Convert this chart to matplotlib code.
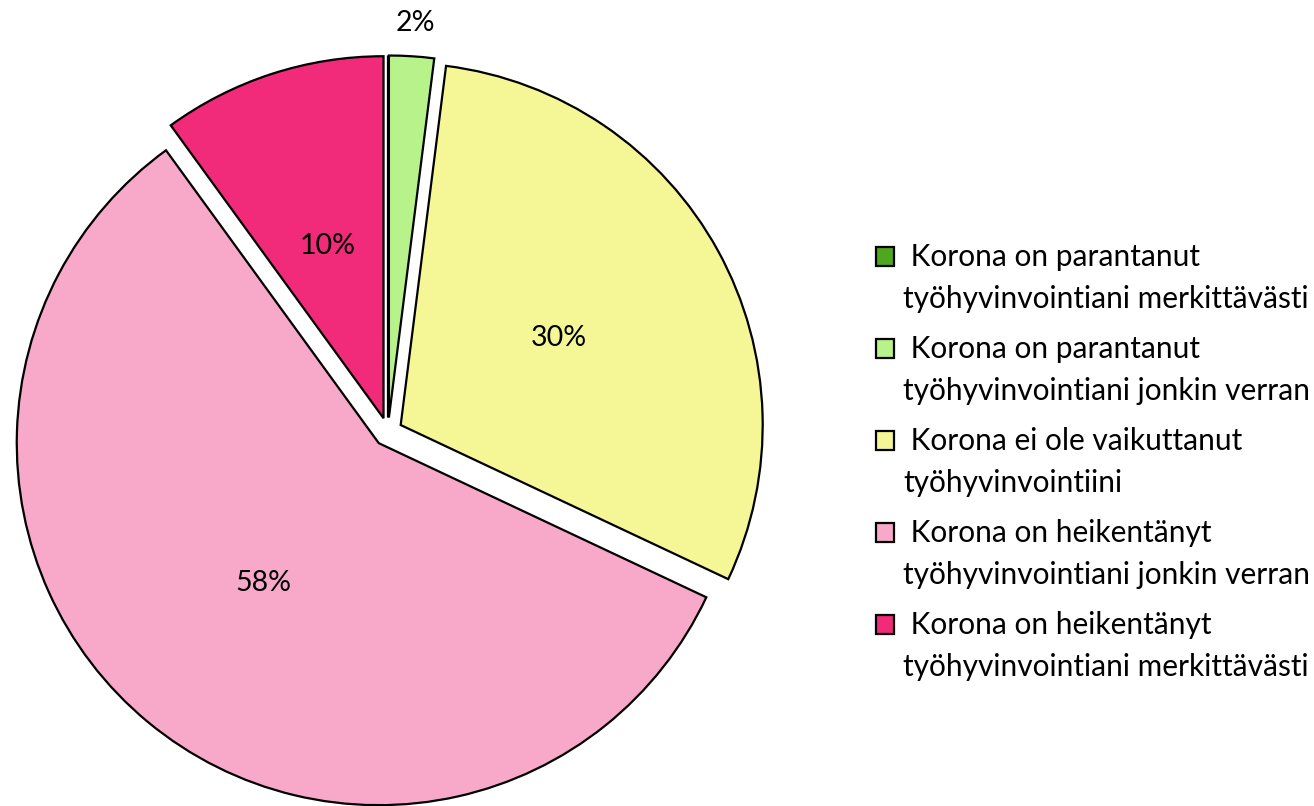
import matplotlib.pyplot as plt
import matplotlib.patches as mpatches
from matplotlib.legend_handler import HandlerPatch

# shares of answers (%), clockwise from 12 o'clock
labels = [
    " Korona on parantanut\ntyöhyvinvointiani merkittävästi",
    " Korona on parantanut\ntyöhyvinvointiani jonkin verran",
    " Korona ei ole vaikuttanut\ntyöhyvinvointiini",
    " Korona on heikentänyt\ntyöhyvinvointiani jonkin verran",
    " Korona on heikentänyt\ntyöhyvinvointiani merkittävästi",
]
shares = [0, 2, 30, 58, 10]
colors = ["#4ea71c", "#b8f28a", "#f5f797", "#f8a8c8", "#f22a7a"]

plt.rcParams['font.family'] = ['Lato', 'DejaVu Sans']

LEG_SIZE = 21.5
LINE_SP = 1.62


def pct_text(p):
    return "" if round(p) == 0 else "%d%%" % round(p)


# legend box sits next to the first line of the two-line label
def first_line_box(legend, orig_handle, xdescent, ydescent, width, height, fontsize):
    lift = 0.75 * fontsize
    return mpatches.Rectangle((-xdescent, -ydescent + lift), width, height)


def main():
    fig = plt.figure(figsize=(13.14, 8.06), dpi=100)
    # pie centre at about (388, 432) px, radius 362 px
    ax = fig.add_axes([0, 0, 776 / 1314, 1])
    wedges, texts, autotexts = ax.pie(
        shares, colors=colors, startangle=90, counterclock=False,
        explode=[0.04] * len(shares), autopct=pct_text, pctdistance=0.5,
        wedgeprops=dict(edgecolor="black", linewidth=1.6),
        textprops=dict(fontsize=20.5, color="black"),
    )
    # small slice label goes outside, above the pie
    autotexts[1].set_position((0.075, 1.13))
    ax.set_xlim(-388 / 362, 388 / 362)
    ax.set_ylim(-374 / 362, 432 / 362)
    ax.set_aspect("equal")
    ax.axis("off")

    leg = fig.legend(wedges, labels, loc="center left",
                     bbox_to_anchor=(0.667, 0.427), frameon=False,
                     fontsize=LEG_SIZE, handlelength=0.6, handleheight=0.6,
                     handletextpad=0.3, labelspacing=0.73, borderpad=0,
                     borderaxespad=0,
                     handler_map={mpatches.Wedge: HandlerPatch(patch_func=first_line_box)})
    for t in leg.get_texts():
        t.set_linespacing(LINE_SP)
    for h in leg.legend_handles:
        h.set_linewidth(1.6)
    fig.savefig("out.png", dpi=100)


if __name__ == "__main__":
    main()
